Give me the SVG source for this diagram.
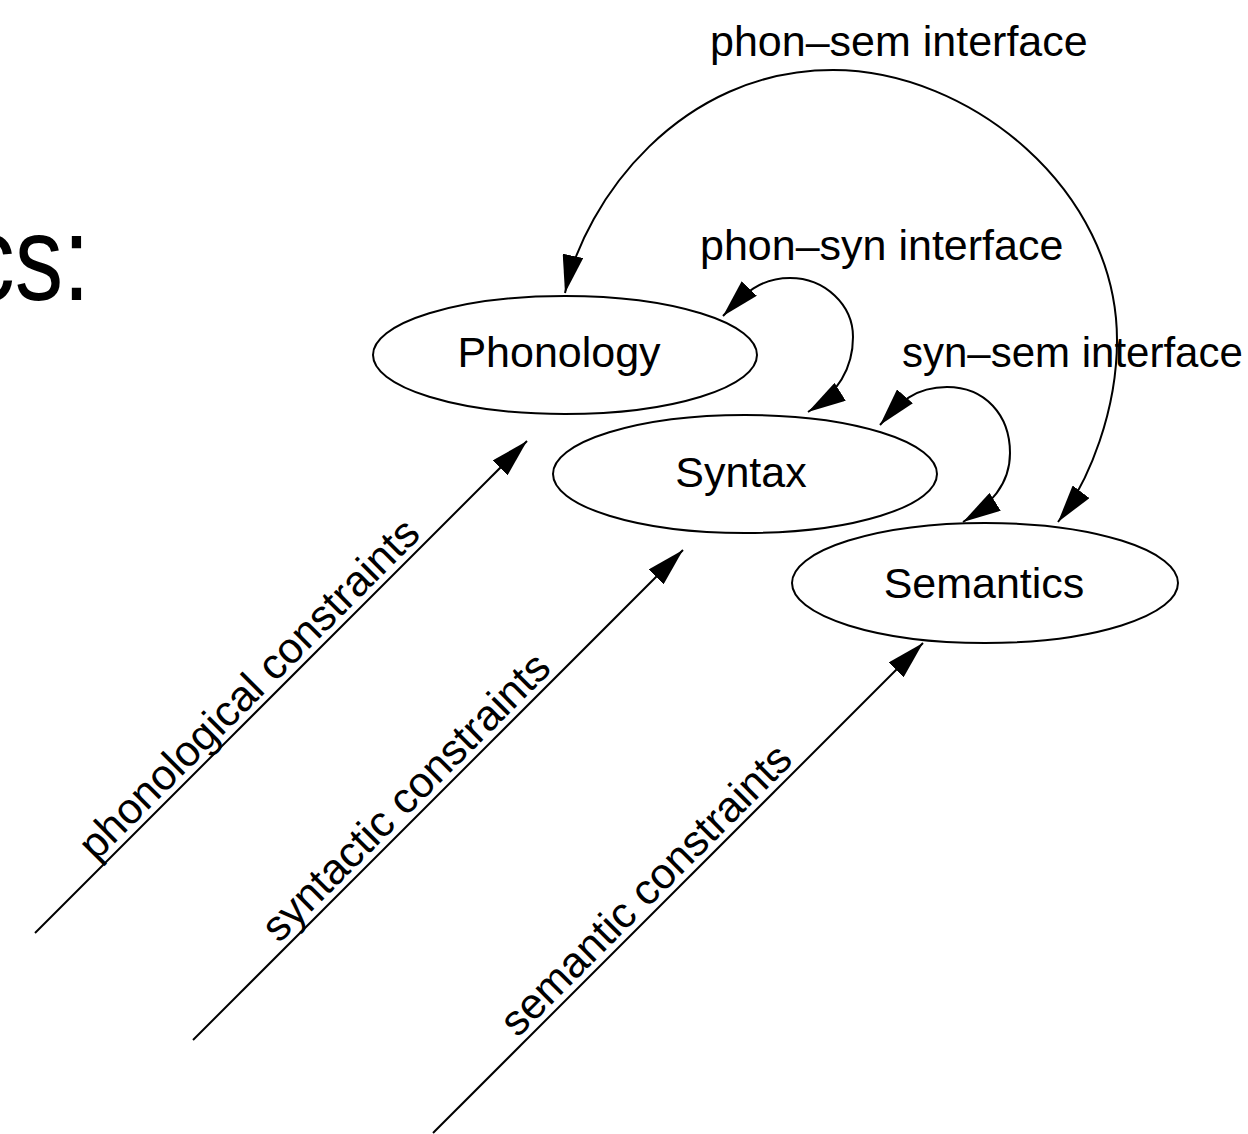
<svg xmlns="http://www.w3.org/2000/svg" width="1248" height="1134" viewBox="0 0 1248 1134">
  <style>
    .shape { fill: none; stroke: #000; stroke-width: 2; }
    .edge { fill: none; stroke: #000; stroke-width: 2; }
    .txt { font-family: "Liberation Sans", Arial, sans-serif; font-size: 43px; fill: #000; }
    .big { font-family: "Liberation Sans", Arial, sans-serif; font-size: 121px; fill: #000; }
  </style>
  <defs>
    <marker id="ah" viewBox="0 0 38 21" markerWidth="38" markerHeight="21" refX="38" refY="10.5" orient="auto-start-reverse" markerUnits="userSpaceOnUse">
      <path d="M0,0 L38,10.5 L0,21 z" fill="#000"/>
    </marker>
  </defs>
  <rect x="0" y="0" width="1248" height="1134" fill="#fff"/>

  <text class="big" x="0" y="0" text-anchor="end" transform="translate(90,300) scale(0.8,1)">cs:</text>

  <g id="connectors">
    <path class="edge" d="M565,293 C585,200 680,70 833,70 C970,70 1117,190 1117,340 C1117,410 1090,480 1058,522" marker-start="url(#ah)" marker-end="url(#ah)"/>
    <path class="edge" d="M723,316 C745,293 760,278 790,278 C825,278 853,305 853,337 C853,370 835,395 808,412" marker-start="url(#ah)" marker-end="url(#ah)"/>
    <path class="edge" d="M880,425 C900,402 915,387 947,387 C985,387 1010,415 1010,453 C1010,485 990,505 963,522" marker-start="url(#ah)" marker-end="url(#ah)"/>
    <line class="edge" x1="35" y1="933" x2="527" y2="441" marker-end="url(#ah)"/>
    <line class="edge" x1="193" y1="1040" x2="683" y2="550" marker-end="url(#ah)"/>
    <line class="edge" x1="433" y1="1133" x2="923" y2="643" marker-end="url(#ah)"/>

    <text class="txt" x="710" y="56">phon–sem interface</text>
    <text class="txt" x="700" y="260">phon–syn interface</text>
    <text class="txt" x="902" y="367" style="font-size:42px">syn–sem interface</text>
    <text class="txt" x="259" y="699" text-anchor="middle" transform="rotate(-45 259 699)">phonological constraints</text>
    <text class="txt" x="416" y="807" text-anchor="middle" transform="rotate(-45 416 807)">syntactic constraints</text>
    <text class="txt" x="656" y="900" text-anchor="middle" transform="rotate(-45 656 900)">semantic constraints</text>
  </g>

  <g id="phonology">
    <ellipse class="shape" cx="565" cy="355" rx="192" ry="59"/>
    <text class="txt" x="559" y="367" text-anchor="middle">Phonology</text>
  </g>
  <g id="syntax">
    <ellipse class="shape" cx="745" cy="474" rx="192" ry="59"/>
    <text class="txt" x="741" y="487" text-anchor="middle">Syntax</text>
  </g>
  <g id="semantics">
    <ellipse class="shape" cx="985" cy="583" rx="193" ry="60"/>
    <text class="txt" x="984" y="598" text-anchor="middle">Semantics</text>
  </g>
</svg>
